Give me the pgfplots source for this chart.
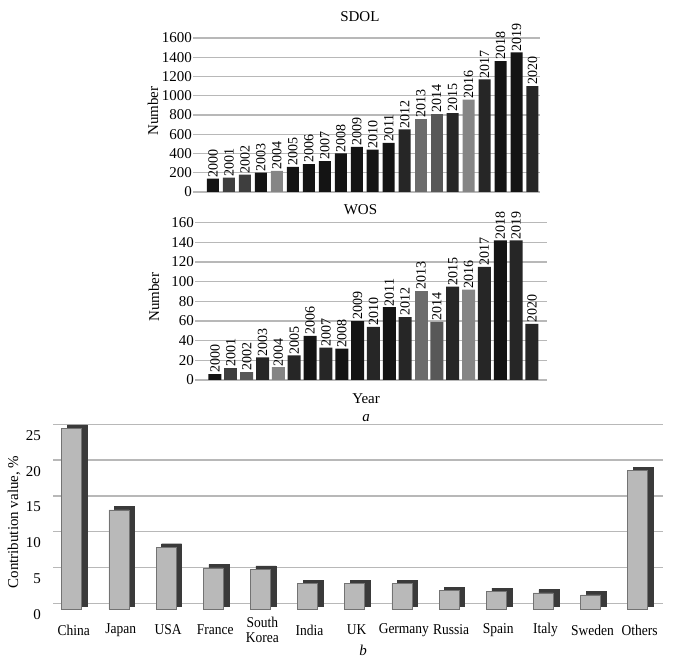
\documentclass[border=0pt]{standalone}
\usepackage{fontspec}
\setmainfont{Liberation Serif}
\newfontfamily\condfont{Liberation Serif}[FakeStretch=0.9]
\usepackage{pgfplots}
\pgfplotsset{compat=1.18}

\definecolor{cK}{HTML}{141414}
\definecolor{cD}{HTML}{262626}
\definecolor{cM}{HTML}{3E3E3E}
\definecolor{cG}{HTML}{585858}
\definecolor{cH}{HTML}{6C6C6C}
\definecolor{cL}{HTML}{858585}
\definecolor{gridc}{HTML}{B8B8B8}
\definecolor{frontc}{HTML}{B9B9B9}
\definecolor{sidec}{HTML}{3A3A3A}

\pgfplotsset{
  yearaxis/.style={
    scale only axis, ybar, bar shift=0pt,
    axis line style={draw=none}, tick style={draw=none},
    ymajorgrids, grid style={gridc, line width=1.3pt},
    xtick=\empty, clip=false,
    /pgf/number format/1000 sep={},
    /pgf/number format/assume math mode=true,
    tick label style={font=\fontsize{15}{18}\selectfont},
    yticklabel style={inner sep=1pt},
    label style={font=\fontsize{15}{18}\selectfont},
    point meta=x,
    nodes near coords,
    every node near coord/.append style={rotate=90, anchor=west, inner sep=1pt,
      font=\fontsize{14}{16}\selectfont, text=black},
  },
}

\begin{document}
\begin{tikzpicture}
\path[use as bounding box] (0pt,0pt) rectangle (685pt,663pt);

% ---------------- SDOL ----------------
\begin{axis}[yearaxis,
  at={(193pt,471pt)}, anchor=south west, width=347pt, height=154pt,
  xmin=1998.75, xmax=2020.47, ymin=0, ymax=1600, ytick={0,200,...,1600},
  bar width=12pt,
  title={SDOL},
  title style={at={(axis description cs:0.481,1)}, anchor=base, yshift=10pt,
    inner sep=0pt, font=\fontsize{15}{18}\selectfont},
  ylabel={Number},
  ylabel style={at={(axis description cs:-0.115,0.526)}, anchor=center},
]
\addplot[fill=cK, draw=none] coordinates {(2000,140)(2003,200)(2005,260)(2006,290)(2007,320)(2008,400)(2009,470)(2010,440)(2011,510)(2018,1360)(2019,1450)};
\addplot[fill=cD, draw=none] coordinates {(2012,650)(2015,820)(2017,1170)(2020,1100)};
\addplot[fill=cM, draw=none] coordinates {(2001,150)(2002,180)};
\addplot[fill=cG, draw=none] coordinates {(2014,810)};
\addplot[fill=cH, draw=none] coordinates {(2013,760)};
\addplot[fill=cL, draw=none] coordinates {(2004,220)(2016,960)};
\end{axis}

% ---------------- WOS ----------------
\begin{axis}[yearaxis,
  at={(195pt,283pt)}, anchor=south west, width=352pt, height=157.3pt,
  xmin=1998.74, xmax=2020.95, ymin=0, ymax=160, ytick={0,20,...,160},
  bar width=13pt,
  title={WOS},
  title style={at={(axis description cs:0.47,1)}, anchor=base, yshift=2pt,
    inner sep=0pt, font=\fontsize{15}{18}\selectfont},
  ylabel={Number},
  ylabel style={at={(axis description cs:-0.1165,0.528)}, anchor=center},
  xlabel={Year},
  xlabel style={at={(axis description cs:0.486,0)}, anchor=center, yshift=-19pt, inner sep=1pt},
]
\addplot[fill=cK, draw=none] coordinates {(2000,6)(2006,45)(2008,32)(2009,60)(2011,74)(2018,142)};
\addplot[fill=cD, draw=none] coordinates {(2003,23)(2005,25)(2007,33)(2010,54)(2012,64)(2015,95)(2017,115)(2019,142)(2020,57)};
\addplot[fill=cM, draw=none] coordinates {(2001,12)};
\addplot[fill=cG, draw=none] coordinates {(2002,8)(2014,59)};
\addplot[fill=cH, draw=none] coordinates {(2013,91)};
\addplot[fill=cL, draw=none] coordinates {(2004,13)(2016,92)};
\end{axis}

\node[font=\fontsize{15}{18}\selectfont\itshape, inner sep=1pt] at (366pt,245pt) {a};

% ---------------- Contribution ----------------
\begin{axis}[
  scale only axis, at={(53pt,59.7pt)}, anchor=south west, width=610pt, height=179pt,
  xmin=-0.396, xmax=12.536, ymin=0, ymax=25, ytick={0,5,...,25},
  ybar, bar shift=0pt, bar width=20pt, clip=false,
  axis line style={draw=none}, tick style={draw=none},
  ymajorgrids, grid style={gridc, line width=1.3pt},
  xtick={0,...,12},
  xticklabels={China,Japan,USA,France,{South\\Korea},India,UK,Germany,Russia,Spain,Italy,Sweden,Others},
  /pgf/number format/assume math mode=true,
  tick label style={font=\fontsize{15}{16}\selectfont},
  xticklabel style={align=center, anchor=center, yshift=-22.5pt, xshift=2pt,
    font=\condfont\fontsize{15}{15}\selectfont},
  yticklabel style={anchor=east, inner sep=0pt, xshift=-12pt, yshift=-11pt},
  ylabel={Contribution value, \%},
  label style={font=\fontsize{15}{18}\selectfont},
  ylabel style={at={(axis description cs:-0.064,0.454)}, anchor=center},
]
\addplot[ybar, fill=sidec, draw=sidec, line width=0.4pt, bar shift=5.6pt, yshift=-2.7pt]
  coordinates {(0,25.3)(1,13.9)(2,8.7)(3,5.8)(4,5.6)(5,3.6)(6,3.6)(7,3.6)(8,2.6)(9,2.5)(10,2.3)(11,2.0)(12,19.4)};
\addplot[ybar, fill=frontc, draw=black!55, line width=0.5pt, bar shift=0pt, yshift=-6pt]
  coordinates {(0,25.3)(1,13.9)(2,8.7)(3,5.8)(4,5.6)(5,3.6)(6,3.6)(7,3.6)(8,2.6)(9,2.5)(10,2.3)(11,2.0)(12,19.4)};
\end{axis}

\node[font=\fontsize{15}{18}\selectfont\itshape] at (363pt,13pt) {b};
\end{tikzpicture}
\end{document}
